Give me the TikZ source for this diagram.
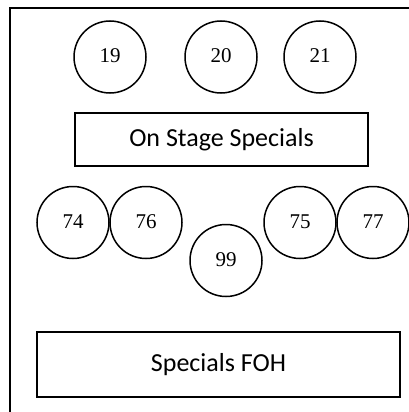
\documentclass[tikz,border=0pt]{standalone}
\usepackage{fontspec}
\setmainfont{Liberation Serif}
\newfontfamily\calib{Carlito}
\begin{document}
\begin{tikzpicture}[x=1pt,y=-1pt,
  spot/.style={draw,circle,line width=1.5pt,minimum size=72pt,inner sep=0pt,font=\fontsize{21}{21}\selectfont},
  band/.style={draw,rectangle,line width=1.5pt,inner sep=0pt,font=\calib\fontsize{26}{26}\selectfont}]
\useasboundingbox (0,0) rectangle (409,412);
\coordinate (fb) at (10,413);
\coordinate (fc) at (10,8);
\coordinate (fr) at (410,8);
\draw[line width=1.6pt] (fb) -- (fc) -- (fr);
\node[spot] (c19) at (110,57) {\raisebox{2pt}{19}};
\node[spot] (c20) at (221,57) {\raisebox{2pt}{20}};
\node[spot] (c21) at (320,57) {\raisebox{2pt}{21}};
\node[band,minimum width=293pt,minimum height=53pt] (ons) at (221.5,139.5) {On Stage Specials};
\node[spot] (c74) at (73,222.5) {\raisebox{2pt}{74}};
\node[spot] (c76) at (146,222.5) {\raisebox{2pt}{76}};
\node[spot] (c99) at (226,260.5) {\raisebox{2pt}{99}};
\node[spot] (c75) at (300,222.5) {\raisebox{2pt}{75}};
\node[spot] (c77) at (373,222.5) {\raisebox{2pt}{77}};
\node[band,minimum width=363pt,minimum height=65pt] (foh) at (218.5,364.5) {\raisebox{2pt}{Specials FOH}};
\end{tikzpicture}
\end{document}
